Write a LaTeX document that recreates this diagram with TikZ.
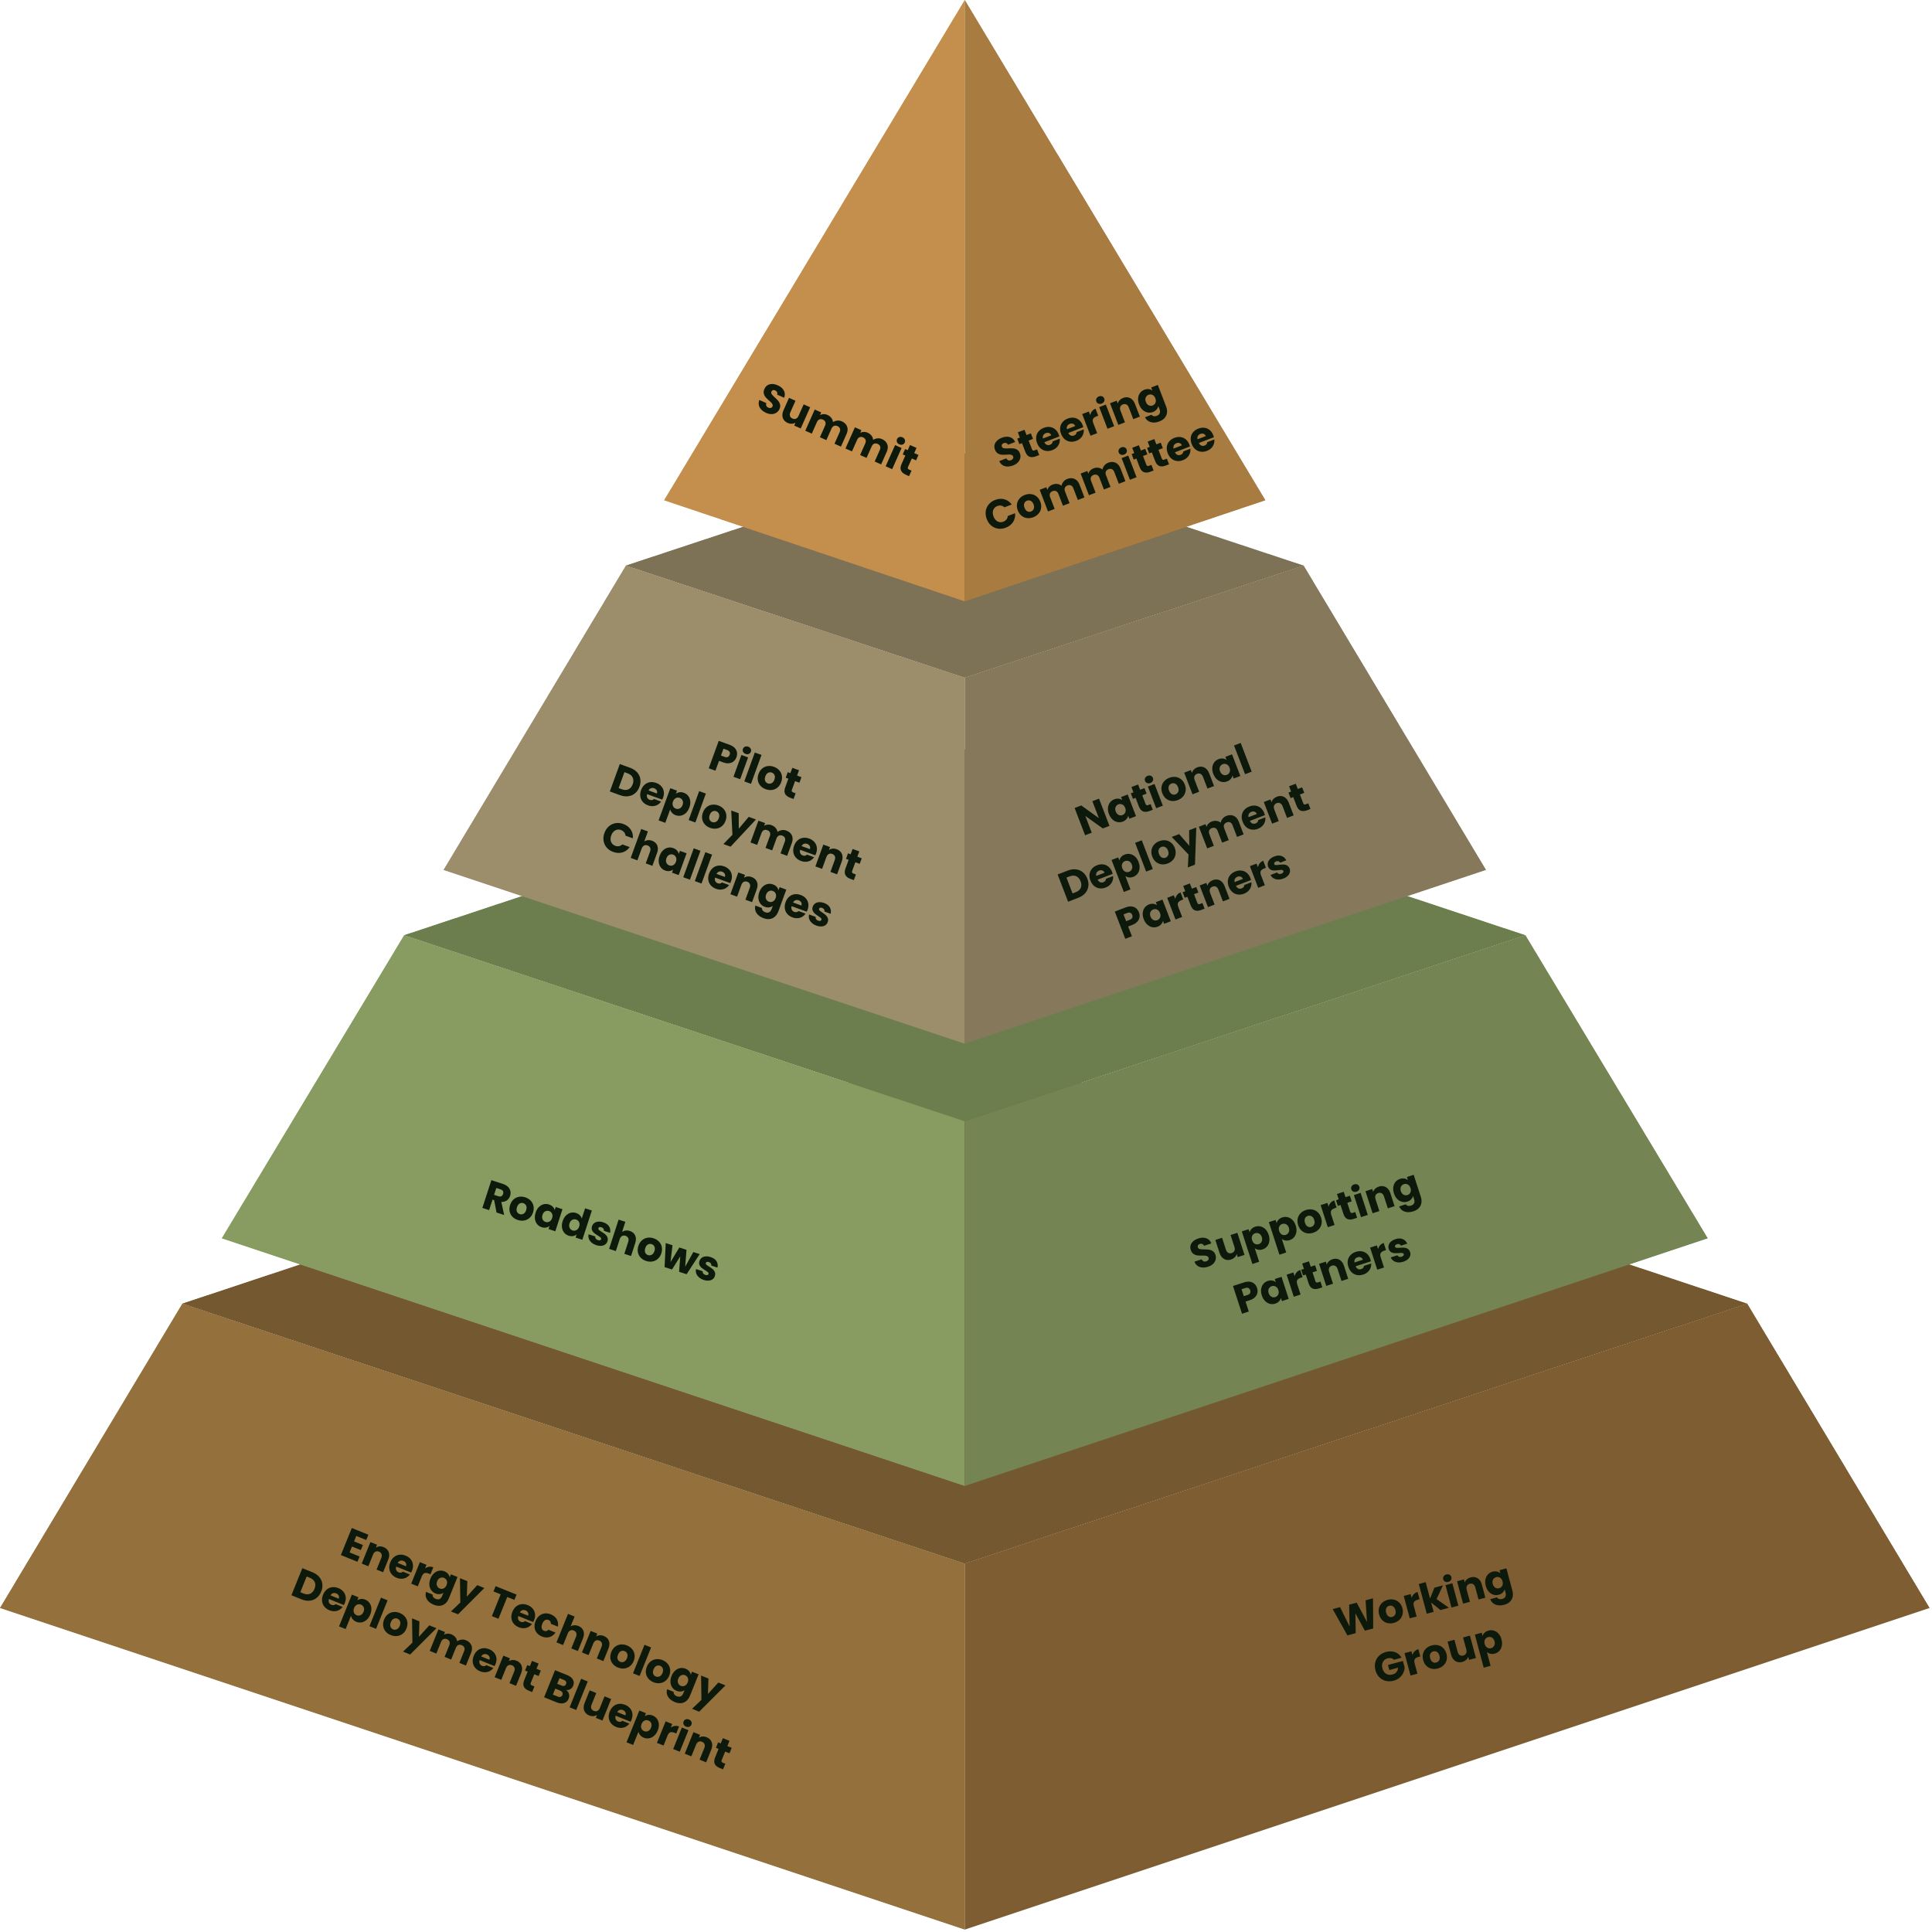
\documentclass[tikz,border=0pt]{standalone}
\usepackage{fontspec}
\setmainfont{Poppins}
\usepackage{tikz}

\definecolor{topL}{HTML}{C48E4C}
\definecolor{topR}{HTML}{A87B40}
\definecolor{pilotT}{HTML}{7D7256}
\definecolor{pilotL}{HTML}{9C8D6B}
\definecolor{pilotR}{HTML}{85785B}
\definecolor{roadT}{HTML}{6D7E4E}
\definecolor{roadL}{HTML}{889C62}
\definecolor{roadR}{HTML}{748453}
\definecolor{baseT}{HTML}{74582F}
\definecolor{baseL}{HTML}{93703C}
\definecolor{baseR}{HTML}{7E5D32}
\definecolor{labelink}{HTML}{0D1A0B}

\tikzset{
  tierlabel/.style={text=labelink, align=center, inner sep=0pt,
    font=\fontsize{9.6}{12.8}\selectfont\bfseries}
}

\begin{document}
\begin{tikzpicture}[x=0.1mm, y=-0.1mm]
  \useasboundingbox (0,0) rectangle (1568,1568);
  % --- Base tier ---
  \fill[baseT] (148,1058) -- (783,847) -- (1418,1058) -- (783,1269) -- cycle;
  \fill[baseL] (148,1058) -- (783,1269) -- (783,1566) -- (0,1305) -- cycle;
  \fill[baseR] (1418,1058) -- (783,1269) -- (783,1566) -- (1566,1305) -- cycle;
  % --- Roadshow tier ---
  \fill[roadT] (328,759) -- (783,608) -- (1238,759) -- (783,910) -- cycle;
  \fill[roadL] (328,759) -- (783,910) -- (783,1206) -- (180,1005) -- cycle;
  \fill[roadR] (1238,759) -- (783,910) -- (783,1206) -- (1386,1005) -- cycle;
  % --- Pilot tier ---
  \fill[pilotT] (508,459) -- (783,368) -- (1058,459) -- (783,550) -- cycle;
  \fill[pilotL] (508,459) -- (783,550) -- (783,847) -- (360,706) -- cycle;
  \fill[pilotR] (1058,459) -- (783,550) -- (783,847) -- (1206,706) -- cycle;
  % --- Top ---
  \fill[topL] (783,0) -- (783,488) -- (539,406) -- cycle;
  \fill[topR] (783,0) -- (783,488) -- (1027,406) -- cycle;
  % --- Labels ---
  \node[tierlabel, rotate=-24] (summit) at (681,347) {Summit};
  \node[tierlabel, rotate=21] (steering) at (884,364) {Steering\\Committee};
  \node[tierlabel, rotate=-20] (pilot) at (597,670) {Pilot\\Deployment\\Challenges};
  \node[tierlabel, rotate=21] (national) at (960,682) {National\\Deployment\\Partners};
  \node[tierlabel, rotate=-18] (road) at (489,999) {Roadshows};
  \node[tierlabel, rotate=18] (support) at (1066,1010) {Supporting\\Partners};
  \node[tierlabel, rotate=-22] (blueprint) at (423,1337) {Energy Technology\\Deployment Blueprint};
  \node[tierlabel, rotate=15] (working) at (1162,1323) {Working\\Group};
\end{tikzpicture}
\end{document}
